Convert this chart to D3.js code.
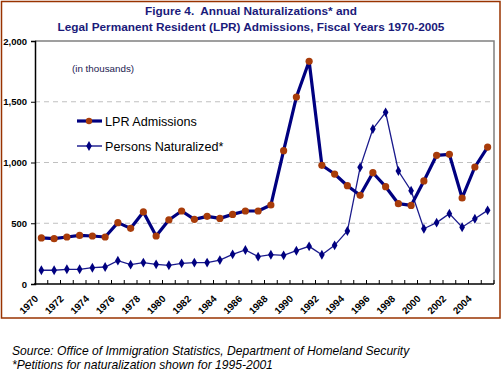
<!DOCTYPE html>
<html>
<head>
<meta charset="utf-8">
<script src="https://cdn.jsdelivr.net/npm/d3@7"></script>
<style>
  body { margin: 0; background: #fff; }
  svg { display: block; font-family: Arial, "Liberation Sans", sans-serif; }
</style>
</head>
<body>
<div id="chart"></div>
<script>
// Years on the category axis
const years = d3.range(1970, 2006);

// LPR admissions, thousands
const lprAdmissions = [379, 373, 387, 400, 395, 387, 505, 458, 593, 395,
  527, 601, 532, 557, 540, 573, 601, 601, 650, 1097,
  1539, 1833, 977, 905, 809, 730, 916, 801, 661, 647,
  848, 1059, 1067, 708, 963, 1127];

// Persons naturalized, thousands (petitions for 1995-2001)
const naturalized = [113, 113, 121, 121, 134, 140, 192, 159, 176, 162,
  154, 170, 176, 176, 197, 244, 280, 225, 241, 236,
  274, 310, 241, 318, 436, 960, 1276, 1413, 930, 768,
  455, 505, 579, 467, 537, 606];

const yTicks = [0, 500, 1000, 1500, 2000];
const xLabelYears = d3.range(1970, 2005, 2);

const titleLines = ['Figure 4.  Annual Naturalizations* and',
  'Legal Permanent Resident (LPR) Admissions, Fiscal Years 1970-2005'];
const footLines = ['Source: Office of Immigration Statistics, Department of Homeland Security',
  '*Petitions for naturalization shown for 1995-2001'];

const width = 502, height = 373;
const margin = { left: 35, right: 10, top: 41, bottom: 89 };

const svg = d3.select('#chart').append('svg')
  .attr('width', width)
  .attr('height', height);

// outer frame
svg.append('rect')
  .attr('x', 1.5).attr('y', 1.5)
  .attr('width', 498.5).attr('height', 316.5)
  .attr('fill', 'none')
  .attr('stroke', '#993300')
  .attr('stroke-width', 1.5);

// title
svg.selectAll('.title')
  .data(titleLines)
  .enter()
  .append('text')
  .attr('x', 251)
  .attr('y', (d, i) => 15 + i * 15.5)
  .attr('text-anchor', 'middle')
  .style('white-space', 'pre')
  .style('font-size', '11.8px')
  .style('font-weight', 'bold')
  .style('fill', '#1a1a7a')
  .text(d => d);

const x = d3.scaleBand()
  .domain(years)
  .range([margin.left, width - margin.right + 2]);

const y = d3.scaleLinear()
  .domain([0, 2000])
  .range([height - margin.bottom, margin.top]);

const g = svg.append('g');

// gridlines
g.selectAll('.grid')
  .data(yTicks.filter(t => t > 0 && t < 2000))
  .enter()
  .append('line')
  .attr('x1', x.range()[0])
  .attr('x2', x.range()[1])
  .attr('y1', d => y(d))
  .attr('y2', d => y(d))
  .style('stroke', '#c0c0c0')
  .style('stroke-dasharray', '5,4');

// top and right plot frame
g.append('path')
  .attr('d', `M${x.range()[0]},${y(2000)}H${x.range()[1]}V${y(0)}`)
  .style('fill', 'none')
  .style('stroke', '#808080')
  .style('stroke-width', 1.5);

// y axis
const yAxis = g.append('g')
  .attr('transform', `translate(${x.range()[0]},0)`)
  .call(d3.axisLeft(y).tickValues(yTicks).tickSize(4).tickPadding(4).tickFormat(d3.format(',')));
yAxis.select('.domain').style('stroke', '#000').style('stroke-width', 1.5);
yAxis.selectAll('.tick line').style('stroke', '#000');
yAxis.selectAll('text')
  .style('font-size', '9.5px')
  .style('font-weight', 'bold')
  .style('fill', '#000');

// x axis: ticks between categories, pointing inward
const bounds = years.map(d => x(d)).concat([x.range()[1]]).slice(1);
g.selectAll('.xtick')
  .data(bounds)
  .enter()
  .append('line')
  .attr('x1', d => d)
  .attr('x2', d => d)
  .attr('y1', y(0))
  .attr('y2', y(0) - 4)
  .style('stroke', '#000');
g.append('line')
  .attr('x1', x.range()[0] - 1)
  .attr('x2', x.range()[1])
  .attr('y1', y(0))
  .attr('y2', y(0))
  .style('stroke', '#000')
  .style('stroke-width', 1.5);

g.selectAll('.xlabel')
  .data(xLabelYears)
  .enter()
  .append('text')
  .attr('transform', d => `translate(${x(d) + x.bandwidth() / 2 - 5},${y(0) + 13}) rotate(-45)`)
  .attr('text-anchor', 'end')
  .attr('dy', '0.35em')
  .style('font-size', '9.8px')
  .style('font-weight', 'bold')
  .style('fill', '#000')
  .text(d => d);

const cx = (d, i) => x(years[i]) + x.bandwidth() / 2;
const line = d3.line().x(cx).y(d => y(d));

// naturalized series
g.append('path')
  .datum(naturalized)
  .attr('d', line)
  .style('fill', 'none')
  .style('stroke', '#1a1a8c')
  .style('stroke-width', 1.3);
g.selectAll('.nat')
  .data(naturalized)
  .enter()
  .append('path')
  .attr('d', d3.symbol(d3.symbolDiamond, 28))
  .attr('transform', (d, i) => `translate(${cx(d, i)},${y(d)})`)
  .style('fill', '#000080');

// LPR series
g.append('path')
  .datum(lprAdmissions)
  .attr('d', line)
  .style('fill', 'none')
  .style('stroke', '#000080')
  .style('stroke-width', 3.2)
  .style('stroke-linejoin', 'round');
g.selectAll('.lpr')
  .data(lprAdmissions)
  .enter()
  .append('circle')
  .attr('cx', cx)
  .attr('cy', d => y(d))
  .attr('r', 3.6)
  .style('fill', '#a83c0a');

// note
svg.append('text')
  .attr('x', 72)
  .attr('y', 72)
  .style('font-size', '9.8px')
  .style('fill', '#1a1a50')
  .text('(in thousands)');

// legend
const legend = svg.append('g');
const legendItems = [
  { name: 'LPR Admissions', w: 3.2, marker: 'circle', y: 121 },
  { name: 'Persons Naturalized*', w: 1.3, marker: 'diamond', y: 146 }
];
legendItems.forEach(item => {
  legend.append('line')
    .attr('x1', 77).attr('x2', 102)
    .attr('y1', item.y).attr('y2', item.y)
    .style('stroke', '#000080')
    .style('stroke-width', item.w);
  if (item.marker === 'circle') {
    legend.append('circle')
      .attr('cx', 89).attr('cy', item.y).attr('r', 3.2)
      .style('fill', '#a83c0a');
  } else {
    legend.append('path')
      .attr('d', d3.symbol(d3.symbolDiamond, 28))
      .attr('transform', `translate(89,${item.y})`)
      .style('fill', '#000080');
  }
  legend.append('text')
    .attr('x', 105)
    .attr('y', item.y)
    .attr('dy', '0.36em')
    .style('font-size', '12.6px')
    .style('fill', '#000')
    .text(item.name);
});

// footnotes
svg.selectAll('.foot')
  .data(footLines)
  .enter()
  .append('text')
  .attr('x', 12)
  .attr('y', (d, i) => 355 + i * 14)
  .style('font-size', '12.1px')
  .style('font-style', 'italic')
  .style('fill', '#000')
  .text(d => d);
</script>
</body>
</html>
